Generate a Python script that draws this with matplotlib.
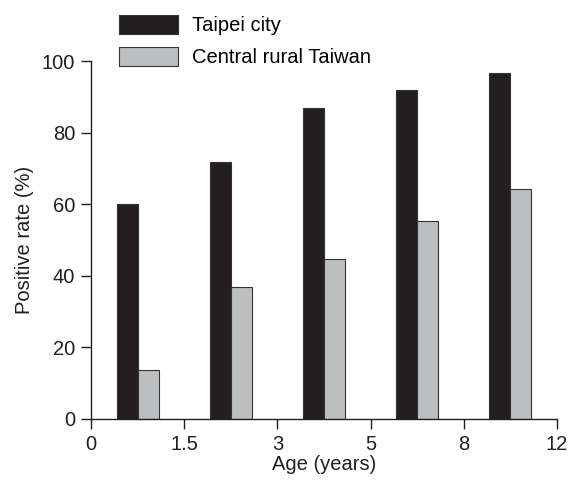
import matplotlib.pyplot as plt
import numpy as np

plt.rcParams['font.family'] = ['Liberation Sans', 'DejaVu Sans']

age_ticks = ['0', '1.5', '3', '5', '8', '12']
taipei = [60.2, 71.9, 86.9, 91.9, 96.7]
rural = [13.8, 37.0, 44.7, 55.3, 64.2]

black = '#231f20'
grey = '#bcbec0'
fs = 14.5

fig = plt.figure(figsize=(5.7, 4.82), dpi=100)
ax = fig.add_axes([0.16, 0.131, 0.817, 0.742])

x = np.arange(len(taipei)) + 0.5
w = 0.225
b1 = ax.bar(x - w / 2, taipei, w, color=black, edgecolor='#333333', linewidth=0.8, label='Taipei city')
b2 = ax.bar(x + w / 2, rural, w, color=grey, edgecolor='#333333', linewidth=0.8, label='Central rural Taiwan')

ax.set_xlim(0, 5)
ax.set_ylim(0, 100)
ax.set_xticks(np.arange(len(age_ticks)))
ax.set_xticklabels(age_ticks)
ax.set_yticks([0, 20, 40, 60, 80, 100])
ax.spines['top'].set_visible(False)
ax.spines['right'].set_visible(False)
for s in ['left', 'bottom']:
    ax.spines[s].set_linewidth(1.0)
    ax.spines[s].set_color(black)
ax.tick_params(direction='out', length=7.5, width=1.0, labelsize=fs, colors=black, pad=4)
ax.set_xlabel('Age (years)', fontsize=fs, color=black, labelpad=1)
ax.set_ylabel('Positive rate (%)', fontsize=fs, color=black, labelpad=6)

fig.legend(handles=[b1, b2], loc='upper left', bbox_to_anchor=(119 / 570, 1 - 15 / 482),
           frameon=False, fontsize=fs, handlelength=2.93, handleheight=1.05,
           handletextpad=0.67, labelspacing=0.58, borderaxespad=0, borderpad=0)

fig.savefig('out.png', dpi=100)
